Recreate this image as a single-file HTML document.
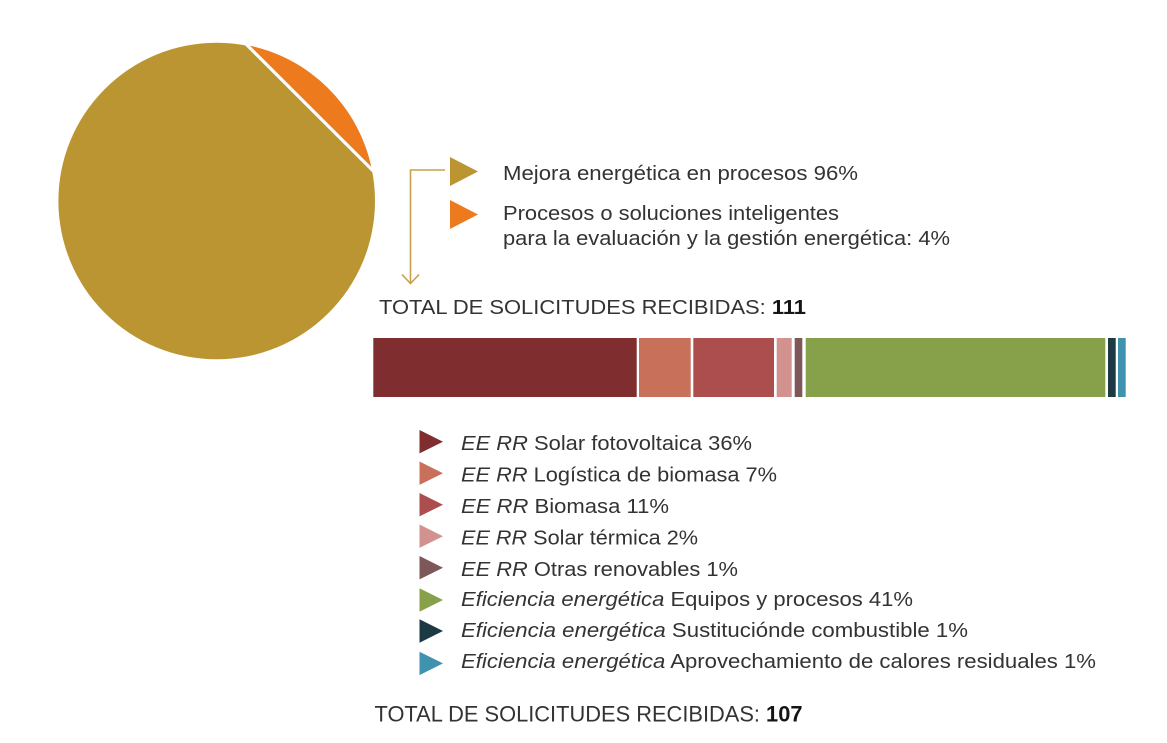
<!DOCTYPE html>
<html>
<head>
<meta charset="utf-8">
<style>
  html, body { margin:0; padding:0; background:#ffffff; }
  body { width:1167px; height:743px; overflow:hidden; }
  svg { display:block; }
  text { font-family: "Liberation Sans", "DejaVu Sans", sans-serif; fill:#333333; }
  .it { font-style: italic; }
  .b { font-weight: bold; fill:#151515; }
</style>
</head>
<body>
<svg width="1167" height="743" viewBox="0 0 1167 743" xmlns="http://www.w3.org/2000/svg">
  <!-- Pie -->
  <circle cx="216.7" cy="201" r="158.3" fill="#BA9532"/>
  <path d="M246.7,45 A158.3,158.3 0 0 1 371.7,169.3 Z" fill="#EE7A1E"/>
  <line x1="244.5" y1="42.5" x2="374" y2="171.8" stroke="#ffffff" stroke-width="3.2"/>

  <!-- Connector arrow -->
  <polyline points="445,170 410.5,170 410.5,283" fill="none" stroke="#C9A04A" stroke-width="1.6"/>
  <polyline points="402,274.5 410.5,283.5 419,274.5" fill="none" stroke="#C9A04A" stroke-width="1.6"/>

  <!-- Pie legend -->
  <polygon points="450,157 478,171.5 450,186" fill="#BA9532"/>
  <polygon points="450,200 478,214.5 450,229" fill="#EE7A1E"/>
  <text x="503" y="180" font-size="20.5" textLength="355" lengthAdjust="spacingAndGlyphs">Mejora energética en procesos 96%</text>
  <text x="503" y="220" font-size="20.5" textLength="336" lengthAdjust="spacingAndGlyphs">Procesos o soluciones inteligentes</text>
  <text x="503" y="245" font-size="20.5" textLength="447" lengthAdjust="spacingAndGlyphs">para la evaluación y la gestión energética: 4%</text>

  <text x="379" y="314" font-size="20.5" textLength="427" lengthAdjust="spacingAndGlyphs">TOTAL DE SOLICITUDES RECIBIDAS: <tspan class="b">111</tspan></text>

  <!-- Stacked bar -->
  <rect x="373.3" y="338" width="263.4" height="59" fill="#7F2D2F"/>
  <rect x="639" y="338" width="51.7" height="59" fill="#C9705A"/>
  <rect x="693.3" y="338" width="80.7" height="59" fill="#AD4E4E"/>
  <rect x="776.7" y="338" width="15" height="59" fill="#D29290"/>
  <rect x="794.7" y="338" width="7.6" height="59" fill="#7D5759"/>
  <rect x="805.7" y="338" width="299.6" height="59" fill="#87A14B"/>
  <rect x="1108" y="338" width="7.7" height="59" fill="#1C3944"/>
  <rect x="1118" y="338" width="7.7" height="59" fill="#3F93AE"/>

  <!-- Bar legend -->
  <polygon points="419.5,430 443,441.7 419.5,453.4" fill="#7F2D2F"/>
  <polygon points="419.5,461.5 443,473.2 419.5,484.9" fill="#C9705A"/>
  <polygon points="419.5,493 443,504.7 419.5,516.4" fill="#AD4E4E"/>
  <polygon points="419.5,524.5 443,536.2 419.5,547.9" fill="#D29290"/>
  <polygon points="419.5,556 443,567.7 419.5,579.4" fill="#7D5759"/>
  <polygon points="419.5,588.3 443,600 419.5,611.7" fill="#87A14B"/>
  <polygon points="419.5,619.3 443,631 419.5,642.7" fill="#1C3944"/>
  <polygon points="419.5,651.7 443,663.4 419.5,675.1" fill="#3F93AE"/>

  <text x="461" y="450" font-size="20.5" textLength="291" lengthAdjust="spacingAndGlyphs"><tspan class="it">EE RR</tspan> Solar fotovoltaica 36%</text>
  <text x="461" y="481.5" font-size="20.5" textLength="316" lengthAdjust="spacingAndGlyphs"><tspan class="it">EE RR</tspan> Logística de biomasa 7%</text>
  <text x="461" y="513" font-size="20.5" textLength="208" lengthAdjust="spacingAndGlyphs"><tspan class="it">EE RR</tspan> Biomasa 11%</text>
  <text x="461" y="544.5" font-size="20.5" textLength="237" lengthAdjust="spacingAndGlyphs"><tspan class="it">EE RR</tspan> Solar térmica 2%</text>
  <text x="461" y="576" font-size="20.5" textLength="277" lengthAdjust="spacingAndGlyphs"><tspan class="it">EE RR</tspan> Otras renovables 1%</text>
  <text x="461" y="606" font-size="20.5" textLength="452" lengthAdjust="spacingAndGlyphs"><tspan class="it">Eficiencia energética</tspan> Equipos y procesos 41%</text>
  <text x="461" y="637" font-size="20.5" textLength="507" lengthAdjust="spacingAndGlyphs"><tspan class="it">Eficiencia energética</tspan> Sustituciónde combustible 1%</text>
  <text x="461" y="668" font-size="20.5" textLength="635" lengthAdjust="spacingAndGlyphs"><tspan class="it">Eficiencia energética</tspan> Aprovechamiento de calores residuales 1%</text>

  <text x="374.5" y="721.5" font-size="22.5" textLength="428" lengthAdjust="spacingAndGlyphs">TOTAL DE SOLICITUDES RECIBIDAS: <tspan class="b">107</tspan></text>
</svg>
</body>
</html>
